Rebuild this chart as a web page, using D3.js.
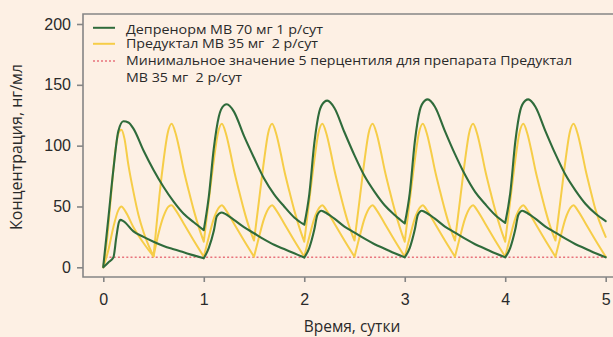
<!DOCTYPE html>
<html><head><meta charset="utf-8">
<script src="https://cdn.jsdelivr.net/npm/d3@7"></script>
<style>
html,body{margin:0;padding:0;background:#fdf0e4;}
svg{display:block;font-family:"Open Sans","Noto Sans",sans-serif;}
text{white-space:pre;}
</style></head>
<body>
<svg id="c" width="613" height="337"></svg>
<script>
// ---- data ----
const xTicks = [0,1,2,3,4,5];
const yTicks = [0,50,100,150,200];
const legendLabels = [
  "Депренорм МВ 70 мг 1 р/сут",
  "Предуктал МВ 35 мг  2 р/сут",
  "Минимальное значение 5 перцентиля для препарата Предуктал",
  "МВ 35 мг  2 р/сут"
];
const xTitle = "Время, сутки";
const yTitle = "Концентрация, нг/мл";
const minLevel = 8.3; // минимальное значение 5 перцентиля
// Депренорм upper curve [t, value]
const deprUpper = [
 [0,1],[0.05,40],[0.1,80],[0.15,112],[0.2,120],[0.25,119],[0.3,114],[0.4,96],[0.5,80],[0.6,66],[0.7,54],[0.8,44],[0.9,37],[1.0,30.5],
 [1.05,58],[1.1,98],[1.15,124],[1.2,133],[1.23,134],[1.3,128],[1.4,108],[1.5,90],[1.6,73],[1.7,60],[1.8,50],[1.9,41],[2.0,35],
 [2.05,60],[2.1,102],[2.15,128],[2.2,136],[2.23,137],[2.3,131],[2.4,111],[2.5,92],[2.6,75],[2.7,62],[2.8,51],[2.9,43],[3.0,36],
 [3.05,61],[3.1,103],[3.15,129],[3.2,137],[3.23,138],[3.3,132],[3.4,112],[3.5,93],[3.6,76],[3.7,62],[3.8,52],[3.9,43],[4.0,36.5],
 [4.05,61],[4.1,103],[4.15,129],[4.2,137],[4.23,138],[4.3,132],[4.4,112],[4.5,93],[4.6,76],[4.7,63],[4.8,52],[4.9,44],[5.0,38]
];
// Депренорм lower curve
const deprLower = [
 [0,0],[0.05,4],[0.1,8],[0.13,25],[0.155,37],[0.17,39],[0.2,38],[0.3,29.5],[0.4,25],[0.5,21],[0.6,17.5],[0.7,14.8],[0.8,12.3],[0.9,9.8],[1.0,7.4],
 [1.05,16],[1.1,30],[1.13,42],[1.18,45],[1.2,44.5],[1.3,39],[1.4,33],[1.5,28],[1.6,23],[1.7,18.5],[1.8,15],[1.9,11.5],[2.0,8],
 [2.05,16],[2.1,31],[2.13,43],[2.17,46.5],[2.2,45.5],[2.3,40],[2.4,33.5],[2.5,28.5],[2.6,23.5],[2.7,19],[2.8,15.3],[2.9,11.5],[3.0,8.2],
 [3.05,16],[3.1,31],[3.13,43],[3.17,46.5],[3.2,45.5],[3.3,40],[3.4,33.5],[3.5,28.5],[3.6,23.5],[3.7,19],[3.8,15.3],[3.9,11.5],[4.0,8.2],
 [4.05,16],[4.1,31],[4.13,43],[4.17,46.5],[4.2,45.5],[4.3,40],[4.4,33.5],[4.5,28.5],[4.6,23.5],[4.7,19],[4.8,15.3],[4.9,11.5],[5.0,8.2]
];
// Предуктал upper curve
const predUpper = [
 [0,0],[0.04,25],[0.08,62],[0.12,96],[0.15,110],[0.18,113],[0.21,106],[0.25,84],[0.3,62],[0.35,43],[0.4,29],[0.45,18],[0.5,9],
 [0.53,35],[0.56,60],[0.6,88],[0.64,110],[0.68,118],[0.72,110],[0.76,96],[0.8,80],[0.85,63],[0.9,47],[0.95,33],[1.0,21],
 [1.05,55],[1.1,88],[1.14,110],[1.18,118],[1.22,110],[1.26,96],[1.3,80],[1.35,63],[1.4,47],[1.45,33],[1.5,22],
 [1.55,55],[1.6,88],[1.64,110],[1.68,118],[1.72,110],[1.76,96],[1.8,80],[1.85,63],[1.9,47],[1.95,33],[2.0,21],
 [2.05,55],[2.1,88],[2.14,110],[2.18,118],[2.22,110],[2.26,96],[2.3,80],[2.35,63],[2.4,47],[2.45,33],[2.5,22],
 [2.55,55],[2.6,88],[2.64,110],[2.68,118],[2.72,110],[2.76,96],[2.8,80],[2.85,63],[2.9,47],[2.95,33],[3.0,21],
 [3.05,55],[3.1,88],[3.14,110],[3.18,118],[3.22,110],[3.26,96],[3.3,80],[3.35,63],[3.4,47],[3.45,33],[3.5,22],
 [3.55,55],[3.6,88],[3.64,110],[3.68,118],[3.72,110],[3.76,96],[3.8,80],[3.85,63],[3.9,47],[3.95,33],[4.0,21],
 [4.05,55],[4.1,88],[4.14,110],[4.18,118],[4.22,110],[4.26,96],[4.3,80],[4.35,63],[4.4,47],[4.45,33],[4.5,22],
 [4.55,55],[4.6,88],[4.64,110],[4.68,118],[4.72,110],[4.76,96],[4.8,80],[4.85,63],[4.9,47],[4.95,35],[5.0,25]
];
// Предуктал lower curve
const predLower = [
 [0,0],[0.05,14],[0.1,33],[0.15,47],[0.18,50],[0.22,46],[0.3,33],[0.4,20],[0.5,9],
 [0.55,28],[0.6,42],[0.65,50],[0.68,51],[0.72,47],[0.8,36],[0.9,22],[1.0,8.7],
 [1.05,25],[1.1,40],[1.15,49],[1.18,51],[1.22,47],[1.3,36],[1.4,22],[1.5,8.7],
 [1.55,25],[1.6,40],[1.65,49],[1.68,51],[1.72,47],[1.8,36],[1.9,22],[2.0,8.7],
 [2.05,25],[2.1,40],[2.15,49],[2.18,51],[2.22,47],[2.3,36],[2.4,22],[2.5,8.7],
 [2.55,25],[2.6,40],[2.65,49],[2.68,51],[2.72,47],[2.8,36],[2.9,22],[3.0,8.7],
 [3.05,25],[3.1,40],[3.15,49],[3.18,51],[3.22,47],[3.3,36],[3.4,22],[3.5,8.7],
 [3.55,25],[3.6,40],[3.65,49],[3.68,51],[3.72,47],[3.8,36],[3.9,22],[4.0,8.7],
 [4.05,25],[4.1,40],[4.15,49],[4.18,51],[4.22,47],[4.3,36],[4.4,22],[4.5,8.7],
 [4.55,25],[4.6,40],[4.65,49],[4.68,51],[4.72,47],[4.8,36],[4.9,22],[5.0,8.7]
];

// ---- drawing ----
const GREEN = "#2f6b3b", YELLOW = "#f6cd48", RED = "#e8737c", AXIS = "#858585", TEXT = "#2a2a2a";
const svg = d3.select("#c");
const x = d3.scaleLinear().domain([0,5]).range([103.3,605.7]);
const y = d3.scaleLinear().domain([0,200]).range([267.3,24]);
const frameLeft = 83, frameTop = 14, frameBottom = 277, frameRight = 613;

// frame
svg.append("path")
  .attr("d", `M${frameRight},${frameTop}H${frameLeft}V${frameBottom}H${frameRight}`)
  .attr("fill","none").attr("stroke",AXIS).attr("stroke-width",1.6);

// axes
const yAxis = svg.append("g").attr("transform",`translate(${frameLeft},0)`)
  .call(d3.axisLeft(y).tickValues(yTicks).tickSize(6).tickPadding(6).tickFormat(d3.format("d")));
const xAxis = svg.append("g").attr("transform",`translate(0,${frameBottom})`)
  .call(d3.axisBottom(x).tickValues(xTicks).tickSize(5).tickPadding(12).tickFormat(d3.format("d")));
[yAxis,xAxis].forEach(g=>{
  g.select(".domain").remove();
  g.selectAll(".tick line").attr("stroke",AXIS).attr("stroke-width",1.6);
  g.selectAll(".tick text").attr("fill",TEXT).style("font-size","16px");
});

// split at local minima so troughs stay sharp
function segments(data){
  const segs=[]; let cur=[data[0]];
  for(let i=1;i<data.length;i++){
    cur.push(data[i]);
    if(i<data.length-1 && data[i][1]<data[i-1][1] && data[i][1]<data[i+1][1]){segs.push(cur); cur=[data[i]];}
  }
  segs.push(cur); return segs;
}
const line = d3.line().x(d=>x(d[0])).y(d=>y(d[1])).curve(d3.curveMonotoneX);
function drawSeries(data,color,w){
  svg.append("path").attr("d", segments(data).map(s=>line(s)).join(""))
    .attr("fill","none").attr("stroke",color).attr("stroke-width",w)
    .attr("stroke-linejoin","round").attr("stroke-linecap","round");
}
// min level line
svg.append("line").attr("x1",x(0.02)).attr("x2",x(5)).attr("y1",y(minLevel)).attr("y2",y(minLevel))
  .attr("stroke",RED).attr("stroke-width",1.6).attr("stroke-dasharray","2,2.2");
drawSeries(predUpper,YELLOW,2);
drawSeries(predLower,YELLOW,2);
drawSeries(deprUpper,GREEN,2.1);
drawSeries(deprLower,GREEN,2.1);

// legend
const lg = svg.append("g");
const rowsBase = [34, 47.5, 64.5, 81.5];
const rowsLen = [197, 192, 446, 116];
lg.append("line").attr("x1",93).attr("x2",115).attr("y1",27.8).attr("y2",27.8).attr("stroke",GREEN).attr("stroke-width",2);
lg.append("line").attr("x1",93).attr("x2",115).attr("y1",43.8).attr("y2",43.8).attr("stroke",YELLOW).attr("stroke-width",2);
lg.append("line").attr("x1",93).attr("x2",115).attr("y1",61).attr("y2",61).attr("stroke",RED).attr("stroke-width",1.6).attr("stroke-dasharray","2,2");
legendLabels.forEach((t,i)=>{
  lg.append("text").attr("x",126).attr("y",rowsBase[i])
    .attr("textLength",rowsLen[i]).attr("lengthAdjust","spacingAndGlyphs")
    .attr("fill",TEXT).style("font-size","13.5px").text(t);
});

// titles
svg.append("text").attr("x",352).attr("y",327).attr("dy","0.35em").attr("text-anchor","middle")
  .attr("fill",TEXT).style("font-size","15.5px").text(xTitle);
svg.append("text").attr("transform","translate(16,147) rotate(-90)").attr("dy","0.35em").attr("text-anchor","middle")
  .attr("fill",TEXT).style("font-size","16px").text(yTitle);
</script>
</body></html>
